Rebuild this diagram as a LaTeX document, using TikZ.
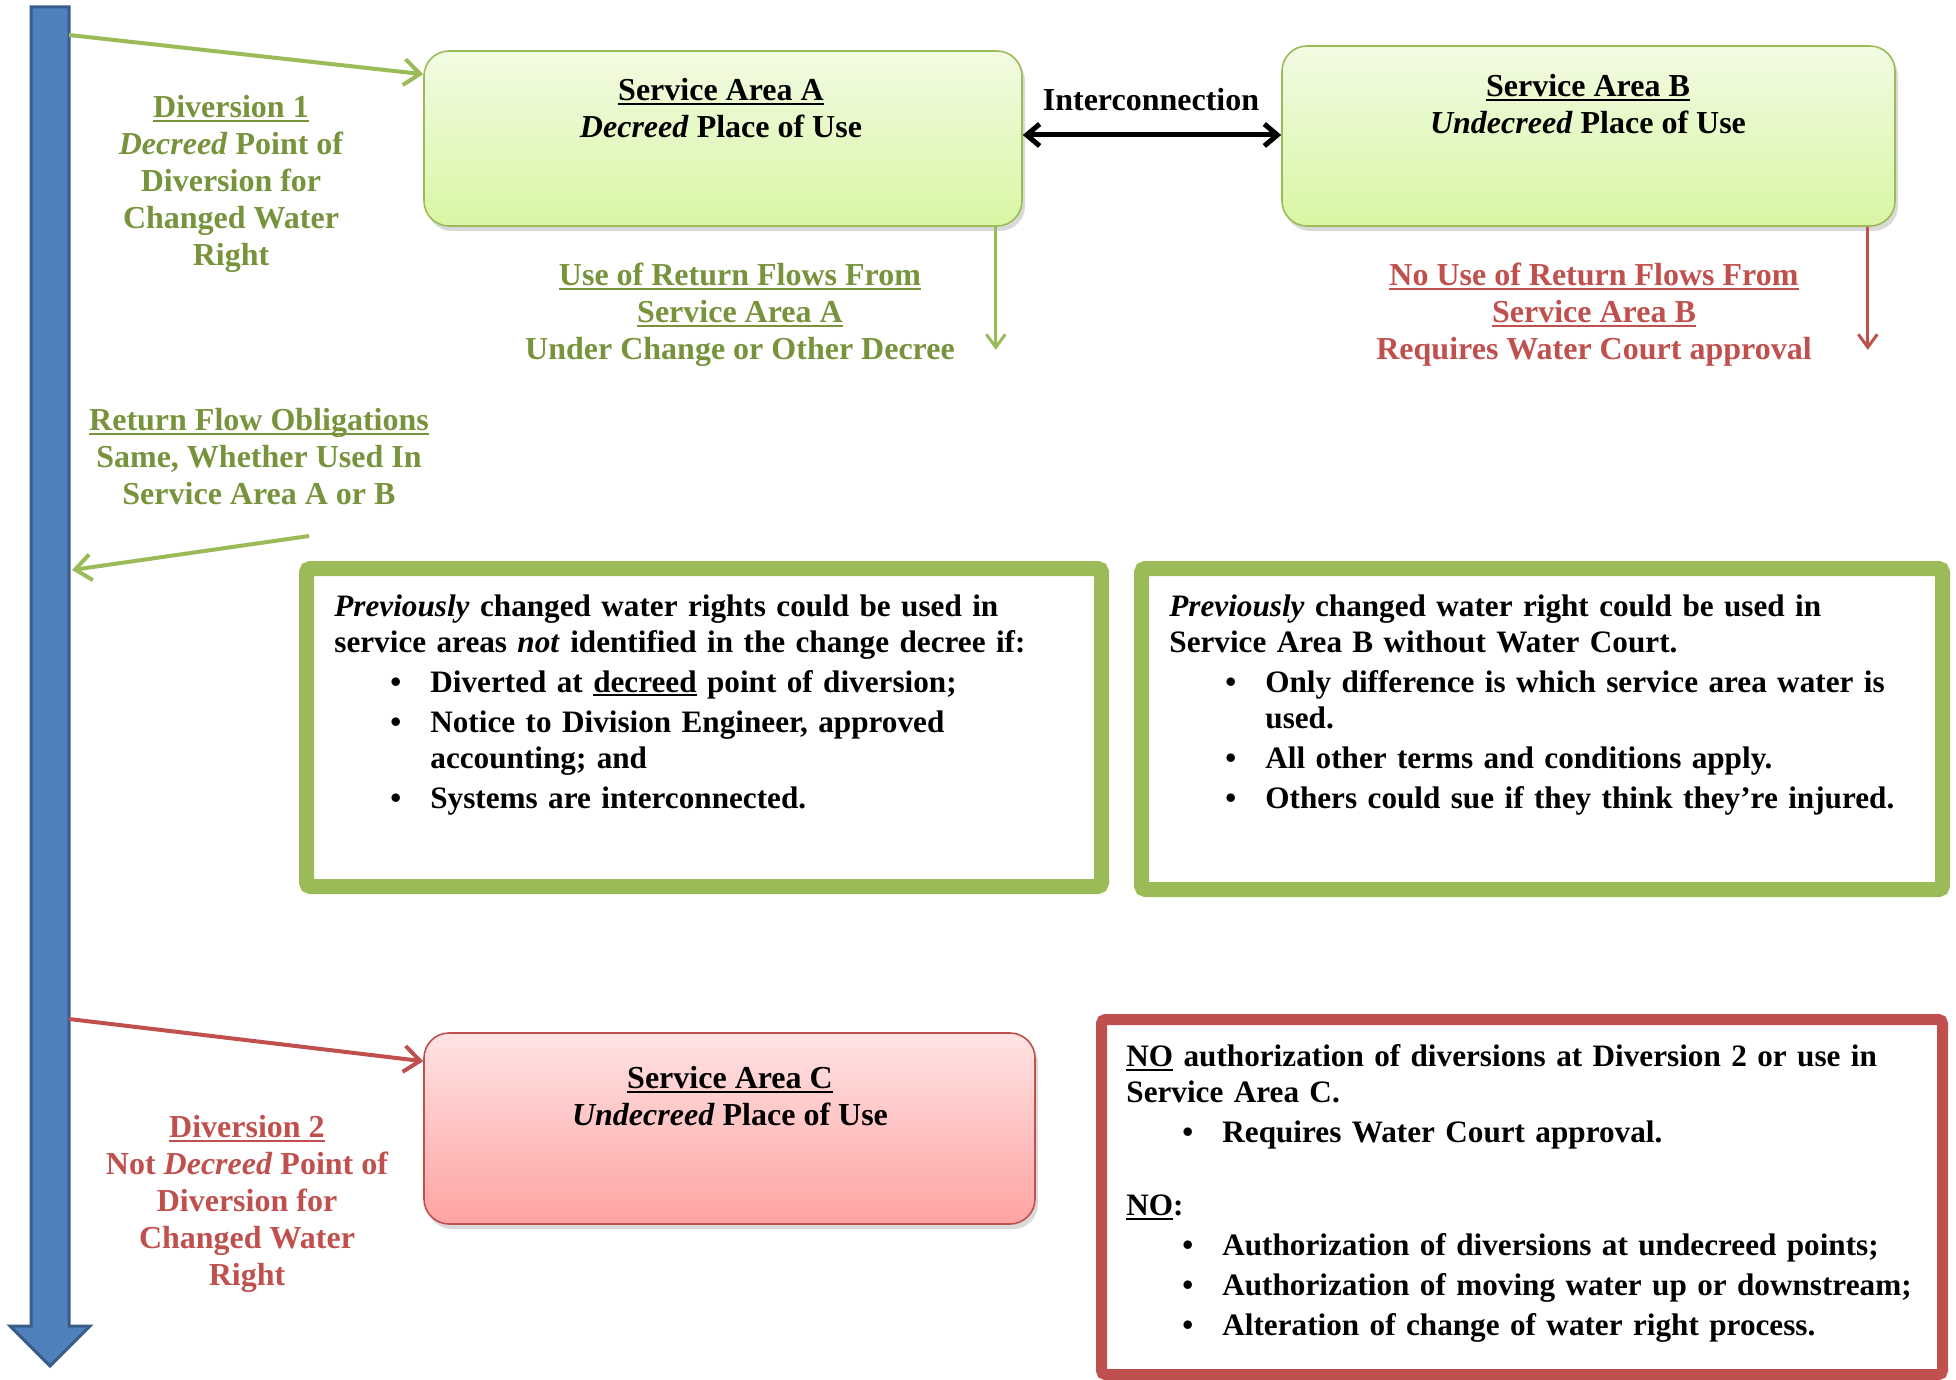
\documentclass[tikz,border=0pt]{standalone}
\usepackage{fontspec}
\setmainfont{Liberation Serif}
\usetikzlibrary{arrows.meta,shadows}

\definecolor{olivetext}{HTML}{77933C}
\definecolor{oliveline}{HTML}{9BBB59}
\definecolor{brickred}{HTML}{C0504D}
\definecolor{riverblue}{HTML}{4F81BD}
\definecolor{riveredge}{HTML}{385D8A}
\definecolor{limetop}{HTML}{F2FBE3}
\definecolor{limebot}{HTML}{D8F6A4}
\definecolor{pinktop}{HTML}{FFE3E3}
\definecolor{pinkbot}{HTML}{FFA3A3}

\newcommand{\uln}[1]{\leavevmode\setbox0\hbox{#1}\rlap{\rule[-2.2pt]{\wd0}{1.1pt}}\box0\relax}
\newcommand{\bitem}[1]{\par\vspace{2pt}\hangindent=48pt\hangafter=1\leavevmode\hspace*{28pt}\makebox[20pt][l]{\textbullet}#1}
\setlength{\parindent}{0pt}

\begin{document}
\begin{tikzpicture}[x=0.5pt, y=-0.5pt,
  every node/.style={inner sep=0pt, font=\fontsize{16}{18.5}\selectfont\bfseries},
  label text/.style={anchor=north, align=center},
  areabox/.style={rectangle, rounded corners=12.5pt, line width=0.8pt,
    drop shadow={shadow xshift=1.5pt, shadow yshift=-2.5pt, opacity=0.3}},
  greenarea/.style={areabox, draw=oliveline, top color=limetop, bottom color=limebot},
  redarea/.style={areabox, draw=brickred, top color=pinktop, bottom color=pinkbot},
  infobox/.style={rectangle, rounded corners=2pt, fill=white, line width=7.5pt, draw=oliveline},
  box text/.style={anchor=north west, align=left, text width=#1,
    font=\fontsize{15.6}{18}\selectfont\bfseries},
  flow/.style={line width=2pt, -{Straight Barb[length=8pt, width=13pt]}},
  drop/.style={line width=1.5pt, -{Straight Barb[length=6.5pt, width=9.5pt]}}
]
\useasboundingbox (0,0) rectangle (1956,1380);

% river
\draw[fill=riverblue, draw=riveredge, line width=1.5pt]
  (31,7) -- (69,7) -- (69,1326) -- (90,1326) -- (50,1366) -- (10,1326) -- (31,1326) -- cycle;
\coordinate (div1) at (69,35);
\coordinate (div2) at (69,1019);
\coordinate (rfoend) at (72,570);
\coordinate (rfostart) at (309,536);

% service areas
\node[greenarea, minimum width=299pt, minimum height=87.5pt] (areaA) at (723,138.5) {};
\node[greenarea, minimum width=306.5pt, minimum height=90pt] (areaB) at (1588.5,136) {};
\node[redarea, minimum width=305.5pt, minimum height=95.5pt] (areaC) at (729.5,1128.5) {};

\node[label text] (areaAtxt) at (721,78) {\uln{Service Area A}\\\textit{Decreed} Place of Use};
\node[label text] (areaBtxt) at (1588,74) {\uln{Service Area B}\\\textit{Undecreed} Place of Use};
\node[label text] (areaCtxt) at (730,1066) {\uln{Service Area C}\\\textit{Undecreed} Place of Use};
\node[label text] (inter) at (1151,88) {Interconnection};

\draw[line width=2.5pt, {Straight Barb[length=6.5pt, width=11pt]}-{Straight Barb[length=6.5pt, width=11pt]}]
  ([yshift=1.75pt]areaA.east) -- ([yshift=1.75pt]areaA.east -| areaB.west);

% diversions and return flows
\node[label text, text=olivetext] (div1txt) at (231,95)
  {\uln{Diversion 1}\\\textit{Decreed} Point of\\Diversion for\\Changed Water\\Right};
\node[label text, text=brickred] (div2txt) at (247,1115)
  {\uln{Diversion 2}\\Not \textit{Decreed} Point of\\Diversion for\\Changed Water\\Right};
\node[label text, text=olivetext] (retA) at (740,263)
  {\uln{Use of Return Flows From}\\\uln{Service Area A}\\Under Change or Other Decree};
\node[label text, text=brickred] (retB) at (1594,263)
  {\uln{No Use of Return Flows From}\\\uln{Service Area B}\\Requires Water Court approval};
\node[label text, text=olivetext] (rfo) at (259,408)
  {\uln{Return Flow Obligations}\\Same, Whether Used In\\Service Area A or B};

\draw[flow, oliveline] (div1) -- ([yshift=-12pt]areaA.north west);
\draw[flow, brickred] (div2) -- ([yshift=-14.5pt]areaC.north west);
\draw[flow, oliveline] (rfostart) -- (rfoend);
\draw[drop, oliveline] ([xshift=-13.5pt]areaA.south east) -- ++(0,123);
\draw[drop, brickred] ([xshift=-14pt]areaB.south east) -- ++(0,123);

% notes
\node[infobox, minimum width=397.5pt, minimum height=159pt] (noteA) at (704,727.5) {};
\node[infobox, minimum width=400.5pt, minimum height=160.5pt] (noteB) at (1542,729) {};
\node[infobox, draw=brickred, line width=5.5pt, minimum width=420.5pt, minimum height=177.5pt] (noteC) at (1522,1197) {};

\node[box text=380pt] (noteAtxt) at (334,594) {%
  \textit{Previously} changed water rights could be used in\newline
  service areas \textit{not} identified in the change decree if:
  \bitem{Diverted at \uln{decreed} point of diversion;}
  \bitem{Notice to Division Engineer, approved\newline accounting; and}
  \bitem{Systems are interconnected.}};
\node[box text=385pt] (noteBtxt) at (1169,594) {%
  \textit{Previously} changed water right could be used in\newline
  Service Area B without Water Court.
  \bitem{Only difference is which service area water is\newline used.}
  \bitem{All other terms and conditions apply.}
  \bitem{Others could sue if they think they’re injured.}};
\node[box text=405pt] (noteCtxt) at (1126,1044) {%
  \uln{NO} authorization of diversions at Diversion 2 or use in\newline
  Service Area C.
  \bitem{Requires Water Court approval.}
  \par\vspace{18.5pt}
  \uln{NO}:
  \bitem{Authorization of diversions at undecreed points;}
  \bitem{Authorization of moving water up or downstream;}
  \bitem{Alteration of change of water right process.}};
\end{tikzpicture}
\end{document}
